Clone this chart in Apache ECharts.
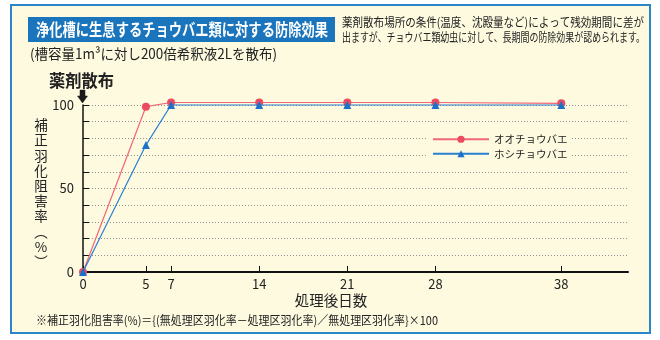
<!DOCTYPE html>
<html><head><meta charset="utf-8">
<script src="https://cdn.jsdelivr.net/npm/echarts@6/dist/echarts.min.js"></script>
<style>html,body{margin:0;padding:0;background:#fff}#c{width:660px;height:340px}</style>
</head><body><div id="c"></div>
<script>
// ---- data ----
const days = [0, 5, 7, 14, 21, 28, 38];
const dayTicks = [0, 5, 7, 14, 21, 28, 38];
const yLabels = [0, 50, 100];
const seriesNames = ['オオチョウバエ', 'ホシチョウバエ'];
const ooChoubae = [0, 99, 101.5, 101.5, 101.5, 101.5, 101];
const hoshiChoubae = [0, 76, 100, 100, 100, 100, 100];
const titleText = '浄化槽に生息するチョウバエ類に対する防除効果';
const noteLine1 = '薬剤散布場所の条件(温度、沈殿量など)によって残効期間に差が';
const noteLine2 = '出ますが、チョウバエ類幼虫に対して、長期間の防除効果が認められます。';
const subText = '(槽容量1m³に対し200倍希釈液2Lを散布)';
const sprayText = '薬剤散布';
const yName = ['補','正','羽','化','阻','害','率','︵','%','︶'];
const xName = '処理後日数';
const footnote = '※補正羽化阻害率(%)＝{(無処理区羽化率－処理区羽化率)／無処理区羽化率}×100';

const FONT = '"Noto Sans CJK JP", "Noto Sans", sans-serif';
const cv = document.createElement('canvas').getContext('2d');
function fitScale(text, size, weight, target) {
  cv.font = (weight || 'normal') + ' ' + size + 'px ' + FONT;
  const w = cv.measureText(text).width;
  return Math.min(1, target / w);
}
function ftext(text, x, y, size, target, opts) {
  opts = opts || {};
  const s = target ? fitScale(text, size, opts.weight, target) : 1;
  return {
    type: 'text', x: x, y: y, scaleX: s, z: 10,
    style: { text: text, font: (opts.weight || 'normal') + ' ' + size + 'px ' + FONT,
      fill: opts.fill || '#222', textAlign: 'left', textVerticalAlign: 'middle' }
  };
}

const graphics = [
  { type: 'rect', shape: { x: 11, y: 5, width: 639, height: 328 }, z: -10,
    style: { fill: '#fdfadf', stroke: '#2a86c8', lineWidth: 2 } },
  { type: 'rect', shape: { x: 28, y: 17, width: 307, height: 25 }, z: 1,
    style: { fill: '#1b75bc' } },
  ftext(titleText, 36, 29.5, 16.5, 292, { weight: 'bold', fill: '#ffffff' }),
  ftext(noteLine1, 342, 22, 12, 302),
  ftext(noteLine2, 342, 37, 12, 303),
  ftext(subText, 30, 54, 14, 247),
  ftext(sprayText, 49, 81, 16.5, 65, { weight: 'bold' }),
  { type: 'polygon', z: 20,
    shape: { points: [[80, 90], [85, 90], [85, 96], [87.5, 96], [82.5, 103], [77.5, 96], [80, 96]] },
    style: { fill: '#1a1a1a', stroke: '#1a1a1a', lineWidth: 0.5 } },
  ftext(footnote, 36, 320, 12, 402),
];
yName.forEach(function (ch, i) {
  graphics.push({ type: 'text', x: 41, y: 125 + i * 15.2, z: 10,
    style: { text: ch, font: '13.5px ' + FONT, fill: '#222', textAlign: 'center', textVerticalAlign: 'middle' } });
});
graphics.push({ type: 'text', x: 331, y: 300, z: 10,
  style: { text: xName, font: '14.5px ' + FONT, fill: '#222', textAlign: 'center', textVerticalAlign: 'middle' } });

const chart = echarts.init(document.getElementById('c'), null, { renderer: 'canvas' });
chart.setOption({
  animation: false,
  backgroundColor: '#ffffff',
  textStyle: { fontFamily: FONT },
  graphic: graphics,
  grid: { left: 83, right: 32, top: 105, bottom: 68, containLabel: false },
  legend: {
    data: seriesNames, orient: 'vertical', left: 428, top: 132,
    itemWidth: 56, itemHeight: 9, itemGap: 4,
    backgroundColor: '#fdfadf', padding: [2, 4, 2, 4],
    textStyle: { fontSize: 10.5, color: '#222', fontFamily: FONT }
  },
  xAxis: {
    type: 'value', min: 0, max: 43.3,
    axisLine: { show: true, onZero: false, lineStyle: { color: '#111', width: 2 } },
    axisTick: { show: true, inside: true, length: 6, customValues: dayTicks, lineStyle: { color: '#111', width: 1 } },
    axisLabel: { customValues: dayTicks, fontSize: 13, color: '#222', margin: 6, fontFamily: FONT },
    splitLine: { show: false }
  },
  yAxis: {
    type: 'value', min: 0, max: 100, interval: 10,
    axisLine: { show: true, lineStyle: { color: '#111', width: 1.5 } },
    axisTick: { show: true, inside: true, length: 6, lineStyle: { color: '#111', width: 1 } },
    axisLabel: { customValues: yLabels, fontSize: 13, color: '#222', margin: 9, fontFamily: FONT },
    splitLine: { show: true, lineStyle: { color: '#8f8f8f', type: [1, 2], width: 1 } }
  },
  series: [
    { name: seriesNames[0], type: 'line', clip: false, z: 3,
      data: days.map(function (d, i) { return [d, ooChoubae[i]]; }),
      symbol: 'circle', symbolSize: 8,
      lineStyle: { color: '#f2667a', width: 1.2 },
      itemStyle: { color: '#ec4b5f' } },
    { name: seriesNames[1], type: 'line', clip: false, z: 4,
      data: days.map(function (d, i) { return [d, hoshiChoubae[i]]; }),
      symbol: 'triangle', symbolSize: 8,
      lineStyle: { color: '#2a7fd2', width: 1.2 },
      itemStyle: { color: '#1c72c8' } }
  ]
});
</script></body></html>
